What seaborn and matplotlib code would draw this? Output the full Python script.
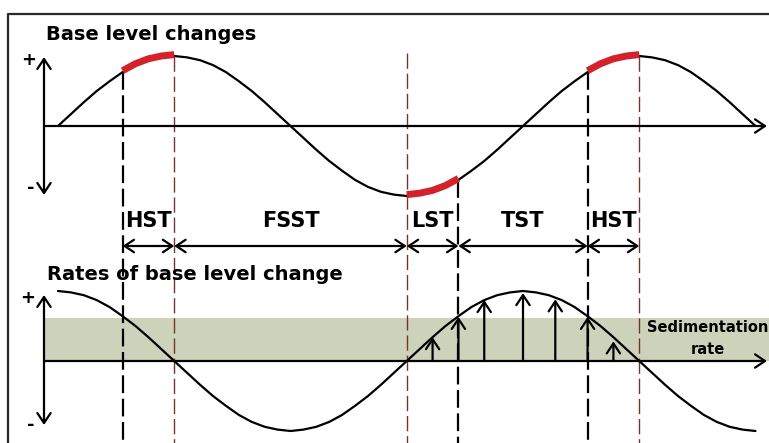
import numpy as np
import matplotlib
matplotlib.use("Agg")
import matplotlib.pyplot as plt
import seaborn as sns

# =========================
# Data (phase in degrees of the base level cycle)
# =========================
phase = [0, 10, 20, 30, 40, 50, 60, 70, 80, 90,
         100, 110, 120, 130, 140, 150, 160, 170, 180,
         190, 200, 210, 220, 230, 240, 250, 260, 270,
         280, 290, 300, 310, 320, 330, 340, 350, 360,
         370, 380, 390, 400, 410, 420, 430, 440, 450,
         460, 470, 480, 490, 500, 510, 520, 530, 540]

base_level = [0.00, 0.17, 0.34, 0.50, 0.64, 0.77, 0.87, 0.94, 0.98, 1.00,
              0.98, 0.94, 0.87, 0.77, 0.64, 0.50, 0.34, 0.17, 0.00,
              -0.17, -0.34, -0.50, -0.64, -0.77, -0.87, -0.94, -0.98, -1.00,
              -0.98, -0.94, -0.87, -0.77, -0.64, -0.50, -0.34, -0.17, 0.00,
              0.17, 0.34, 0.50, 0.64, 0.77, 0.87, 0.94, 0.98, 1.00,
              0.98, 0.94, 0.87, 0.77, 0.64, 0.50, 0.34, 0.17, 0.00]

base_rate = [1.00, 0.98, 0.94, 0.87, 0.77, 0.64, 0.50, 0.34, 0.17, 0.00,
             -0.17, -0.34, -0.50, -0.64, -0.77, -0.87, -0.94, -0.98, -1.00,
             -0.98, -0.94, -0.87, -0.77, -0.64, -0.50, -0.34, -0.17, 0.00,
             0.17, 0.34, 0.50, 0.64, 0.77, 0.87, 0.94, 0.98, 1.00,
             0.98, 0.94, 0.87, 0.77, 0.64, 0.50, 0.34, 0.17, 0.00,
             -0.17, -0.34, -0.50, -0.64, -0.77, -0.87, -0.94, -0.98, -1.00]

tract_names = ["HST", "FSST", "LST", "TST", "HST"]
tract_start = [50, 90, 270, 310, 410]
tract_end = [90, 270, 310, 410, 450]
highlight_tracts = ["HST", "LST"]

boundary_phase = [50, 90, 270, 310, 410, 450]
boundary_top = [0.77, 1.00, 1.04, -0.77, 0.77, 1.00]
boundary_kind = ["black", "brown", "brown", "black", "black", "brown"]

arrow_phase = [290, 310, 330, 360, 385, 410, 430]
arrow_height = [0.34, 0.63, 0.87, 0.97, 0.88, 0.63, 0.28]

sed_rate = 0.62

# =========================
# Layout helpers (pixel positions of the drawing -> data units)
# =========================
PX_PER_DEG = 465 / 360
X0_PX = 58
PX_PER_UNIT = 70
TOP_BASE_PX = 126


def xp(px):
    return (px - X0_PX) / PX_PER_DEG


def yp(py):
    return (TOP_BASE_PX - py) / PX_PER_UNIT


RATE_BASE = yp(361)
RED = "#d3222c"
BROWN = "#7a3328"
BAND = "#cdd2bb"

sns.set_style("white")
plt.rcParams['font.family'] = ['DejaVu Sans']
plt.rcParams['text.color'] = 'black'

fig = plt.figure(figsize=(7.69, 4.43), dpi=100)
ax = fig.add_axes([0, 0, 1, 1])
ax.set_xlim(xp(0), xp(769))
ax.set_ylim(yp(443), yp(0))
ax.axis('off')

# frame
ax.plot([xp(8), xp(8), xp(800)], [yp(460), yp(14), yp(14)],
        color="#2a2a2a", lw=1.6, clip_on=False)

# sedimentation rate band
ax.fill_between([xp(44), xp(780)], RATE_BASE, RATE_BASE + sed_rate,
                color=BAND, lw=0, zorder=0)

# =========================
# Curves
# =========================
sns.lineplot(x=phase, y=base_level, ax=ax, color="black", lw=1.6, zorder=4)
sns.lineplot(x=phase, y=np.array(base_rate) + RATE_BASE, ax=ax,
             color="black", lw=1.6, zorder=4)

ph = np.array(phase)
bl = np.array(base_level)
for name, s, e in zip(tract_names, tract_start, tract_end):
    if name in highlight_tracts:
        m = (ph >= s) & (ph <= e)
        sns.lineplot(x=ph[m], y=bl[m] + 0.02, ax=ax, color=RED, lw=5,
                     solid_capstyle="butt", zorder=5)

# boundaries
for p, top, kind in zip(boundary_phase, boundary_top, boundary_kind):
    if kind == "black":
        ax.plot([p, p], [top, yp(450)], color="black", lw=1.6,
                dashes=(8, 2.5), zorder=3)
    else:
        ax.plot([p, p], [top, yp(450)], color=BROWN, lw=1.0,
                dashes=(11, 3.5), zorder=3)

# =========================
# Axes arrows
# =========================
axis_arrow = dict(arrowstyle="->,head_length=0.45,head_width=0.3",
                  lw=1.6, color="black", shrinkA=0, shrinkB=0,
                  mutation_scale=16)
both_arrow = dict(axis_arrow, arrowstyle="<->,head_length=0.45,head_width=0.3")

ax.annotate("", xy=(xp(44), yp(57)), xytext=(xp(44), yp(195)),
            arrowprops=both_arrow)
ax.annotate("", xy=(xp(44), yp(295)), xytext=(xp(44), yp(425)),
            arrowprops=both_arrow)
ax.annotate("", xy=(xp(767), 0), xytext=(xp(44), 0), arrowprops=axis_arrow)
ax.annotate("", xy=(xp(767), RATE_BASE), xytext=(xp(44), RATE_BASE),
            arrowprops=axis_arrow)

for txt, x, y in [("+", 29, 60), ("-", 31, 188), ("+", 28, 298), ("-", 31, 425)]:
    ax.text(xp(x), yp(y), txt, ha="center", va="center", fontsize=13,
            fontweight="bold")

# =========================
# Systems tracts
# =========================
arrow_y = yp(246)
for name, s, e in zip(tract_names, tract_start, tract_end):
    ax.annotate("", xy=(e, arrow_y), xytext=(s, arrow_y),
                arrowprops=dict(both_arrow, mutation_scale=15), zorder=5)
    ax.text((s + e) / 2, yp(221), name, ha="center", va="center",
            fontsize=15, fontweight="bold")

# rate arrows
for p, h in zip(arrow_phase, arrow_height):
    ax.annotate("", xy=(p, RATE_BASE + h), xytext=(p, RATE_BASE),
                arrowprops=axis_arrow, zorder=6)

# =========================
# Titles
# =========================
ax.text(xp(46), yp(35), "Base level changes", ha="left", va="center",
        fontsize=14, fontweight="bold")
ax.text(xp(47), yp(275), "Rates of base level change", ha="left",
        va="center", fontsize=14, fontweight="bold")
ax.text(xp(708), yp(328), "Sedimentation", ha="center", va="center",
        fontsize=10.5, fontweight="bold")
ax.text(xp(708), yp(349), "rate", ha="center", va="center",
        fontsize=10.5, fontweight="bold")

fig.savefig("out.png", dpi=100)
